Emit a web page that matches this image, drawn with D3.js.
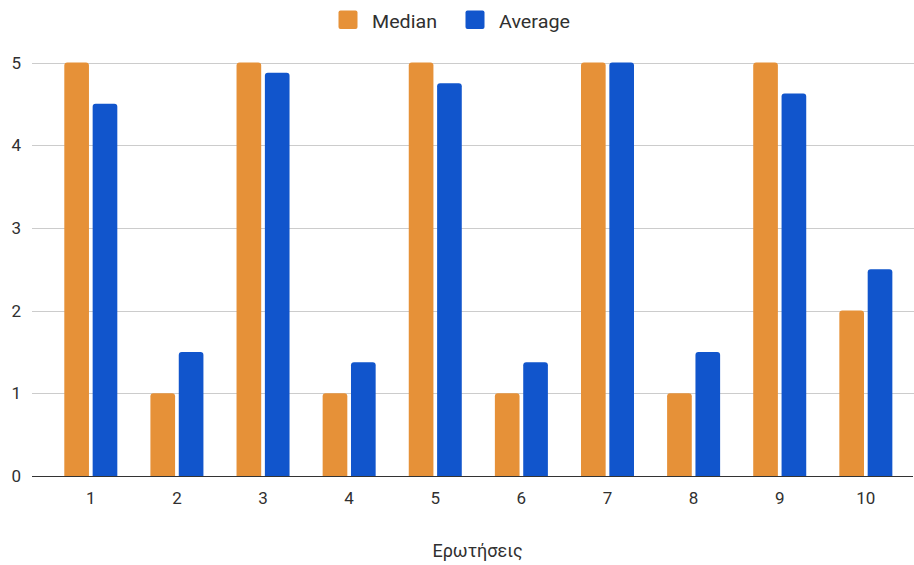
<!DOCTYPE html>
<html>
<head>
<meta charset="utf-8">
<script src="https://cdn.jsdelivr.net/npm/d3@7"></script>
<style>
  html, body { margin: 0; padding: 0; background: #fff; }
  svg { display: block; font-family: Roboto, Arial, sans-serif; }
</style>
</head>
<body>
<svg id="chart" width="914" height="565"></svg>
<script>
// Question numbers and the two summary statistics per question
const questions = ["1", "2", "3", "4", "5", "6", "7", "8", "9", "10"];
const medianValues = [5, 1, 5, 1, 5, 1, 5, 1, 5, 2];
const averageValues = [4.5, 1.5, 4.875, 1.375, 4.75, 1.375, 5, 1.5, 4.625, 2.5];
const seriesNames = ["Median", "Average"];
const seriesColors = ["#E69138", "#1155CC"];
const yTicks = [0, 1, 2, 3, 4, 5];
const xTitle = "Ερωτήσεις";

const rows = questions.map((q, i) => ({ q, values: [medianValues[i], averageValues[i]] }));

const svg = d3.select("#chart");
const W = 914;
const textColor = "#303030";

const x0 = d3.scaleBand()
  .domain(questions)
  .range([47.75, 908.9])
  .paddingInner(0.3844)
  .paddingOuter(0.1922);

const x1 = d3.scaleBand()
  .domain(seriesNames)
  .range([0, x0.bandwidth()])
  .paddingInner(0.13);

const y = d3.scaleLinear().domain([0, 5]).range([476, 62.5]);

// Horizontal gridlines
svg.append("g")
  .selectAll("line")
  .data(yTicks.filter(t => t > 0))
  .join("line")
  .attr("x1", 32).attr("x2", W)
  .attr("y1", d => Math.round(y(d)) + 0.5)
  .attr("y2", d => Math.round(y(d)) + 0.5)
  .attr("stroke", "#cccccc")
  .attr("stroke-width", 1);

// Y tick labels
svg.append("g")
  .selectAll("text")
  .data(yTicks)
  .join("text")
  .attr("x", 21)
  .attr("y", d => y(d))
  .attr("dy", "0.36em")
  .attr("text-anchor", "end")
  .attr("fill", textColor)
  .attr("font-size", 17)
  .text(d => d);

// Bars with rounded top corners
function topRounded(x, yTop, w, h, r) {
  r = Math.min(r, h, w / 2);
  return `M${x},${yTop + h}V${yTop + r}Q${x},${yTop} ${x + r},${yTop}` +
         `H${x + w - r}Q${x + w},${yTop} ${x + w},${yTop + r}V${yTop + h}Z`;
}

const groups = svg.append("g")
  .selectAll("g")
  .data(rows)
  .join("g")
  .attr("transform", d => `translate(${x0(d.q)},0)`);

groups.selectAll("path")
  .data(d => d.values.map((v, i) => ({ v, s: seriesNames[i], c: seriesColors[i] })))
  .join("path")
  .attr("d", d => topRounded(x1(d.s), y(d.v), x1.bandwidth(), y(0) - y(d.v), 3))
  .attr("fill", d => d.c);

// Baseline
svg.append("line")
  .attr("x1", 32).attr("x2", 913)
  .attr("y1", y(0) + 0.5).attr("y2", y(0) + 0.5)
  .attr("stroke", "#333")
  .attr("stroke-width", 1);

// X tick labels
svg.append("g")
  .selectAll("text")
  .data(questions)
  .join("text")
  .attr("x", d => x0(d) + x0.bandwidth() / 2)
  .attr("y", 504)
  .attr("text-anchor", "middle")
  .attr("fill", textColor)
  .attr("font-size", 17)
  .text(d => d);

// Axis title
svg.append("text")
  .attr("x", 477.5)
  .attr("y", 557)
  .attr("text-anchor", "middle")
  .attr("fill", textColor)
  .attr("font-size", 18)
  .text(xTitle);

// Legend
const legendItems = [
  { name: seriesNames[0], color: seriesColors[0], x: 338.5, len: 65 },
  { name: seriesNames[1], color: seriesColors[1], x: 465.5, len: 71 }
];
const lg = svg.append("g")
  .selectAll("g")
  .data(legendItems)
  .join("g")
  .attr("transform", d => `translate(${d.x},0)`);
lg.append("rect")
  .attr("x", 0).attr("y", 10.5)
  .attr("width", 19).attr("height", 18.5)
  .attr("rx", 2)
  .attr("fill", d => d.color);
lg.append("text")
  .attr("x", 33.5)
  .attr("y", 27.8)
  .attr("fill", textColor)
  .attr("font-size", 18.5)
  .attr("textLength", d => d.len)
  .attr("lengthAdjust", "spacingAndGlyphs")
  .text(d => d.name);
</script>
</body>
</html>
